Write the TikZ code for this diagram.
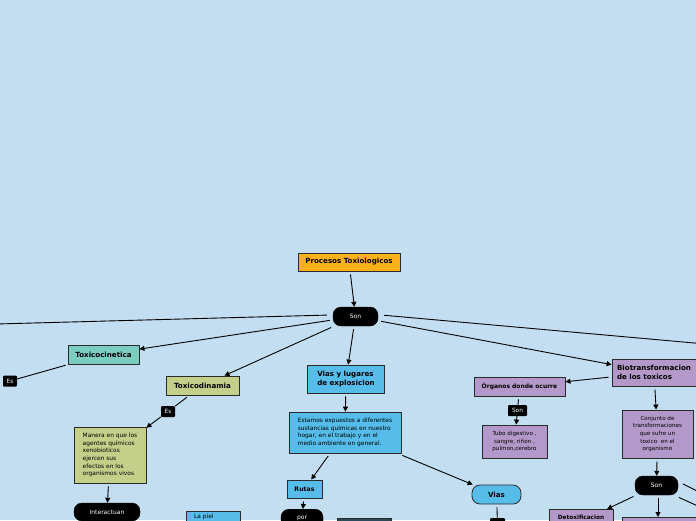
\documentclass[tikz,border=0pt]{standalone}
\usepackage{fontspec}
\setmainfont{DejaVu Sans}
\usetikzlibrary{arrows.meta}
\definecolor{bg}{HTML}{C3DEF1}
\definecolor{corange}{HTML}{FBB117}
\definecolor{cteal}{HTML}{7BCDC0}
\definecolor{colive}{HTML}{C4D08A}
\definecolor{cblue}{HTML}{56BDEB}
\definecolor{cpurple}{HTML}{B399C9}
\definecolor{cdark}{HTML}{2B4B5B}
\definecolor{cline}{HTML}{2A2A2A}
\tikzset{
  box/.style={draw=cline, line width=0.8pt, inner sep=0pt, font=\bfseries\fontsize{7.1}{8.6}\selectfont},
  smallbox/.style={draw=cline, line width=0.8pt, inner sep=0pt, font=\fontsize{5.9}{7.6}\selectfont},
  pill/.style={fill=black, draw=black, rounded corners=8pt, text=white, inner sep=0pt, font=\fontsize{6}{7}\selectfont},
  tag/.style={fill=black, rounded corners=1pt, text=white, inner sep=0pt, font=\fontsize{5.8}{7}\selectfont},
  conn/.style={draw=black, line width=0.9pt, shorten <=3pt},
  arr/.style={conn, -{Triangle[length=5pt,width=5pt]}},
}
\begin{document}
\begin{tikzpicture}[x=1pt,y=-1pt]
\fill[bg] (0,0) rectangle (696,520);
\useasboundingbox (0,0) rectangle (696,520);

% nodes
\node[box, fill=corange, minimum width=102pt, minimum height=18pt] (proc) at (349,262) {Procesos Toxiologicos};
\node[pill, minimum width=45pt, minimum height=19pt] (son) at (355.5,316.5) {Son};

\node[box, fill=cteal, minimum width=71pt, minimum height=19pt] (toxc) at (103.5,354.5) {Toxicocinetica};
\node[tag, minimum width=14pt, minimum height=11pt] (es1) at (10,381) {Es};
\coordinate (esleft) at (-5,382);

\node[box, fill=colive, minimum width=73pt, minimum height=19pt] (toxd) at (202.5,385.5) {Toxicodinamia};
\node[tag, minimum width=14pt, minimum height=11pt] (es2) at (168,411.5) {Es};
\node[smallbox, fill=colive, minimum width=72pt, minimum height=56pt, align=left] (manera) at (110,455) {Manera en que los\\agentes químicos\\xenobioticos\\ejercen sus\\efectos en los\\organismos vivos};
\node[pill, minimum width=66pt, minimum height=18pt] (inter) at (107,512) {Interactuan};
\node[smallbox, fill=cblue, minimum width=54pt, minimum height=24pt, anchor=north] (piel) at (213,511) {};
\node[font=\fontsize{5.9}{7}\selectfont, anchor=north west, inner sep=0pt] (pieltxt) at (194,514) {La piel};

\node[box, fill=cblue, minimum width=77pt, minimum height=28pt, align=left] (vias) at (346,379) {Vias y lugares\\de explosicion};
\node[smallbox, fill=cblue, minimum width=112pt, minimum height=41pt, align=left] (estamos) at (345,432.5) {Estamos expuestos a diferentes\\sustancias químicas en nuestro\\hogar, en el trabajo y en el\\medio ambiente en general.};
\node[box, fill=cblue, minimum width=35pt, minimum height=18pt, font=\bfseries\fontsize{6.2}{8}\selectfont] (rutas) at (304.5,489) {Rutas};
\node[pill, minimum width=42pt, minimum height=22pt, anchor=north] (por) at (302,509) {\raisebox{5pt}{por}};
\node[draw=cline, line width=0.8pt, fill=cdark, minimum width=54pt, minimum height=20pt, anchor=north] (darkbox) at (364,518) {};
\node[box, fill=cblue, rounded corners=8pt, minimum width=49pt, minimum height=19pt] (viasp) at (496.5,494.5) {Vias};
\node[tag, minimum width=15pt, minimum height=12pt, anchor=north] (viastag) at (497.5,518) {};

\node[box, fill=cpurple, minimum width=84pt, minimum height=27pt, align=left] (bio) at (654,372.5) {Biotransformacion\\de los toxicos};
\node[box, fill=cpurple, minimum width=91pt, minimum height=19pt, font=\bfseries\fontsize{6}{7}\selectfont] (org) at (519.5,386.5) {Órganos donde ocurre};
\node[tag, minimum width=19pt, minimum height=11pt] (son2) at (517.5,410.5) {Son};
\node[smallbox, fill=cpurple, minimum width=65pt, minimum height=33pt, align=center, font=\fontsize{5.6}{7.6}\selectfont] (tubo) at (514.5,441.5) {Tubo digestivo ,\\sangre, riñon ,\\pulmon,cerebro};
\node[smallbox, fill=cpurple, minimum width=71pt, minimum height=48pt, align=center, font=\fontsize{5.6}{7.7}\selectfont] (conj) at (657.5,434) {Conjunto de\\transformaciones\\que sufre un\\toxico \ en el\\organismo};
\node[pill, minimum width=43pt, minimum height=19pt] (son3) at (656.5,485.5) {Son};
\node[box, fill=cpurple, minimum width=64pt, minimum height=24pt, anchor=north, font=\bfseries\fontsize{5.8}{7}\selectfont] (detox) at (581,509) {\raisebox{8.5pt}{Detoxificacion}};
\node[box, fill=cpurple, minimum width=76pt, minimum height=22pt, anchor=north west] (below) at (622,517) {};

\coordinate (leftedge) at (-4,324);
\coordinate (rightedge) at (700,343.5);
\coordinate (r1) at (700,492.5);
\coordinate (r2) at (700,507);

% connectors
\draw[arr] (proc) -- (son);
\draw[conn] (son.west) ++(-3pt,1.5pt) -- (leftedge);
\draw[arr] (son) -- (toxc);
\draw[arr] (son) -- (toxd);
\draw[arr] (son) -- (vias);
\draw[arr] (son) -- (bio);
\draw[conn] (son.east) ++(3pt,1.5pt) -- (rightedge);

\draw[conn] (toxc) -- (es1);
\draw[conn] (es1) -- (esleft);

\draw[conn] (toxd) -- (es2);
\draw[arr, shorten <=0pt] (es2) -- (manera);
\draw[arr] (manera) -- (inter);

\draw[arr] (vias) -- (estamos);
\draw[arr] (estamos) -- (rutas);
\draw[arr, shorten <=1pt] (estamos.east |- 0,455) -- (viasp);
\draw[arr] (rutas) -- (por);
\draw[conn] (viasp) -- (viastag);

\draw[arr] (bio) -- (org);
\draw[conn] (org) -- (son2);
\draw[arr, shorten <=0pt] (son2) -- (tubo);
\draw[arr] (bio) -- (conj);
\draw[arr] (conj) -- (son3);
\draw[arr] (son3) -- (detox);
\draw[arr] (son3.south -| 658,0) -- (below.north -| 658,0);
\draw[conn] (son3.east) ++(2pt,3pt) -- (r1);
\draw[conn] (son3.south east) ++(-2pt,-1pt) -- (r2);
\end{tikzpicture}
\end{document}
